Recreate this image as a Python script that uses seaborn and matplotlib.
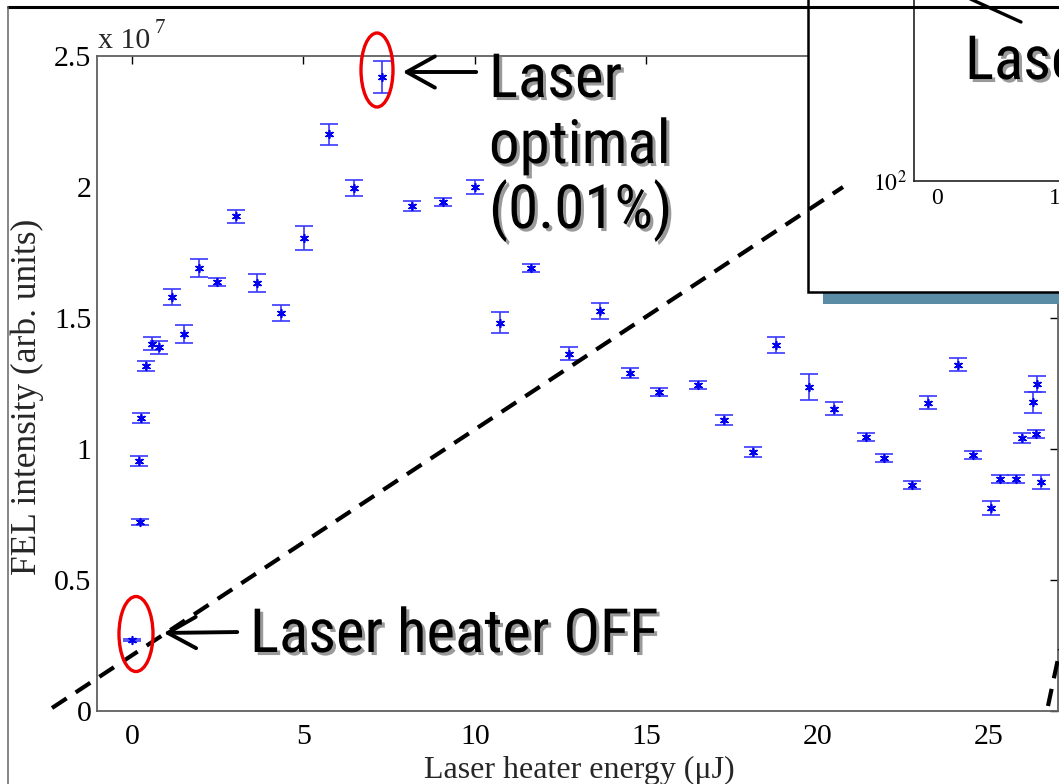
import numpy as np
import pandas as pd
import seaborn as sns
import matplotlib
matplotlib.use("Agg")
import matplotlib.pyplot as plt
from matplotlib import patheffects as pe, font_manager as fm
from matplotlib.patches import Ellipse, Rectangle, FancyArrowPatch
from matplotlib.lines import Line2D

# ---------------- data ----------------
energy = [0.00, 0.23, 0.20, 0.26, 0.41, 0.58, 0.79, 1.17, 1.52, 1.95, 2.48, 3.03,
          3.65, 4.35, 5.02, 5.75, 6.48, 7.29, 8.17, 9.07, 10.01, 10.73, 11.64, 12.75,
          13.65, 14.53, 15.37, 16.51, 17.27, 18.12, 18.79, 19.75, 20.48, 21.41, 21.94,
          22.75, 23.22, 24.09, 24.53, 25.06, 25.32, 25.79, 25.96, 26.28, 26.40, 26.37, 26.52]
intensity = [0.271, 0.721, 0.954, 1.118, 1.317, 1.401, 1.389, 1.580, 1.439, 1.691, 1.637,
             1.889, 1.634, 1.519, 1.805, 2.202, 1.996, 2.420, 1.927, 1.943, 2.000, 1.481,
             1.691, 1.363, 1.527, 1.290, 1.218, 1.244, 1.111, 0.989, 1.397, 1.237, 1.153,
             1.046, 0.966, 0.863, 1.176, 1.321, 0.977, 0.775, 0.885, 0.885, 1.042, 1.179,
             1.248, 1.057, 0.874]
err = [0.005, 0.010, 0.020, 0.020, 0.020, 0.025, 0.025, 0.030, 0.035, 0.035, 0.015,
       0.025, 0.035, 0.030, 0.045, 0.040, 0.030, 0.060, 0.020, 0.015, 0.025, 0.040,
       0.015, 0.025, 0.030, 0.020, 0.015, 0.015, 0.020, 0.020, 0.030, 0.050, 0.025,
       0.015, 0.015, 0.015, 0.025, 0.025, 0.015, 0.025, 0.015, 0.015, 0.020, 0.040,
       0.030, 0.015, 0.025]
x_ticks = [0, 5, 10, 15, 20, 25]
y_ticks = [0, 0.5, 1, 1.5, 2, 2.5]
y_ticklabels = ["0", "0.5", "1", "1.5", "2", "2.5"]
inset_x_ticks = [0, 1]
inset_y_major = [100]
inset_y_minor = [200, 300, 400, 500, 600, 700, 800, 900]

df = pd.DataFrame({"energy": energy, "intensity": intensity, "err": err})

# ---------------- style ----------------
sns.set_theme(style="white")
SERIF = "Liberation Serif"
plt.rcParams["font.family"] = [SERIF, "DejaVu Serif"]
plt.rcParams["mathtext.fontset"] = "stix"

# look for a narrow sans face for the large slide annotations
narrow_prop = None
prefs = ["liberationsansnarrow-regular", "robotocondensed-regular", "opensanscondensed",
         "notosans-condensed.", "notosanscondensed-regular", "arialnarrow",
         "robotocondensed", "dejavusanscondensed."]
files = [f.fname for f in fm.fontManager.ttflist]
for p in prefs:
    hit = [f for f in files if p in f.lower().replace("_", "").replace(" ", "")
           and "bold" not in f.lower() and "italic" not in f.lower()]
    if hit:
        narrow_prop = fm.FontProperties(fname=hit[0])
        break
if narrow_prop is None:
    narrow_prop = fm.FontProperties(family="Liberation Sans")

W, H = 1059, 784
fig = plt.figure(figsize=(W / 100, H / 100), dpi=100)
fig.patch.set_facecolor("white")


def fx(x):
    return x / W


def fy(y):
    return 1 - y / H


# ---------------- main axes ----------------
ax = fig.add_axes([fx(97), fy(711), (1058 - 97) / W, (711 - 56) / H])
ax.errorbar(df["energy"], df["intensity"], yerr=df["err"], fmt="none",
            ecolor="#3838ff", elinewidth=1.2, capsize=6.5, capthick=1.2, zorder=2)
sns.scatterplot(data=df, x="energy", y="intensity", marker=(6, 2, 0), color="#0000ee",
                s=30, linewidth=1.2, ax=ax, zorder=3, legend=False)
ax.set_xlim(-1.02, 27.01)
ax.set_ylim(0, 2.5)
ax.set_xticks(x_ticks)
ax.set_yticks(y_ticks)
ax.set_yticklabels(y_ticklabels)
ax.set_xlabel("")
ax.set_ylabel("")
ax.tick_params(direction="in", length=6, width=1, top=True, right=True,
               labelsize=21.5, colors="black", pad=6)
ax.tick_params(axis="x", pad=9)
ax.tick_params(axis="y", pad=4)
for t in ax.get_xticklines() + ax.get_yticklines():
    t.set_color("#555555")
for s in ax.spines.values():
    s.set_color("#606060")
    s.set_linewidth(1.3)
    s.set_visible(True)

fig.text(fx(579), fy(770), "Laser heater energy (\u03bcJ)", ha="center", va="center",
         fontsize=23)
fig.text(fx(27), fy(397), "FEL intensity (arb. units)", ha="center", va="center",
         rotation=90, fontsize=25.5)
fig.text(fx(98), fy(48), "x 10", fontsize=21.5, va="baseline", ha="left")
fig.text(fx(155), fy(33), "7", fontsize=15, va="baseline", ha="left")

# ---------------- annotations ----------------
shadow = [pe.withSimplePatchShadow(offset=(2.2, -2.2), shadow_rgbFace="#9a9a9a", alpha=1.0)]
big_texts = []


def big_text(x, y, s):
    t = fig.text(fx(x), fy(y), s, fontproperties=narrow_prop.copy(), color="black",
                 va="baseline", ha="left", path_effects=shadow, zorder=10)
    big_texts.append(t)
    return t


ref = big_text(250, 652, "Laser heater OFF")
big_text(489, 97, "Laser")
big_text(489, 163, "optimal")
big_text(489, 228, "(0.01%)")

# fit the annotation size so "Laser heater OFF" spans ~408 px as in the picture
ref.set_fontsize(40)
fig.canvas.draw()
wpx = ref.get_window_extent(fig.canvas.get_renderer()).width
size = 40 * 408.0 / wpx
size = min(size, 45)
for t in big_texts:
    t.set_fontsize(size)

for (x0, y0), (x1, y1) in [((240, 632), (161, 633)), ((479, 72), (400, 72))]:
    fig.add_artist(FancyArrowPatch((fx(x0), fy(y0)), (fx(x1), fy(y1)),
                                   transform=fig.transFigure,
                                   arrowstyle="->,head_length=0.45,head_width=0.25",
                                   mutation_scale=45, lw=2.8, color="black", zorder=10))

for cx, cy, w, h in [(136, 634, 34, 75), (377, 70, 32, 74)]:
    fig.add_artist(Ellipse((fx(cx), fy(cy)), w / W, h / H, transform=fig.transFigure,
                           fill=False, ec="#ee0000", lw=2.4, zorder=10))

# ---------------- inset (cropped) ----------------
fig.add_artist(Rectangle((fx(823), fy(304)), (1080 - 823) / W, 12 / H,
                         transform=fig.transFigure, fc="#5a8ca6", ec="none", zorder=5))
fig.add_artist(Rectangle((fx(808), fy(292)), (1080 - 808) / W, (292 + 20) / H,
                         transform=fig.transFigure, fc="white", ec="black", lw=1.8, zorder=6))

ax_in = fig.add_axes([fx(914), fy(181), (1250 - 914) / W, (181 + 20) / H])
ax_in.set_zorder(7)
ax_in.patch.set_alpha(0)
ax_in.set_yscale("log")
ax_in.set_ylim(100, 100 * 10 ** (201 / 222))
ax_in.set_xlim(-23 / 118, (1250 - 914 - 23) / 118)
ax_in.set_xticks(inset_x_ticks)
ax_in.set_xticklabels([str(v) for v in inset_x_ticks])
ax_in.set_yticks(inset_y_major)
ax_in.set_yticklabels([r"$10^{2}$"])
ax_in.set_yticks(inset_y_minor, minor=True)
ax_in.set_yticklabels([], minor=True)
ax_in.tick_params(which="both", direction="in", labelsize=17, colors="black", pad=5)
ax_in.tick_params(axis="x", length=10, width=1)
ax_in.tick_params(axis="y", which="minor", length=5, width=1)
ax_in.tick_params(axis="y", which="major", length=0)
for side in ["top", "right"]:
    ax_in.spines[side].set_visible(False)
for side in ["left", "bottom"]:
    ax_in.spines[side].set_color("#222222")
    ax_in.spines[side].set_linewidth(1.2)

lase = fig.text(fx(965), fy(79), "Laser", fontproperties=narrow_prop.copy(), color="black",
                va="baseline", ha="left", path_effects=shadow, zorder=10)
lase.set_fontsize(size)
fig.add_artist(Line2D([fx(966), fx(1021)], [fy(-3), fy(22)], transform=fig.transFigure,
                      color="black", lw=2.4, zorder=10))

# ---------------- dashed guide lines ----------------
fig.add_artist(Line2D([fx(52), fx(843)], [fy(708), fy(187)], transform=fig.transFigure,
                      color="black", lw=3, ls=(0, (4.2, 2.6)), zorder=9))
fig.add_artist(Line2D([fx(1048), fx(1062)], [fy(706), fy(640)], transform=fig.transFigure,
                      color="black", lw=3, ls=(0, (4.2, 2.6)), zorder=9))

# ---------------- outer frame ----------------
fig.add_artist(Line2D([fx(8), fx(1070)], [fy(7), fy(7)], transform=fig.transFigure,
                      color="black", lw=2.2, zorder=11))
fig.add_artist(Line2D([fx(8), fx(8)], [fy(7), fy(800)], transform=fig.transFigure,
                      color="#666666", lw=1.1, zorder=11))

fig.savefig("out.png", dpi=100, facecolor="white")
